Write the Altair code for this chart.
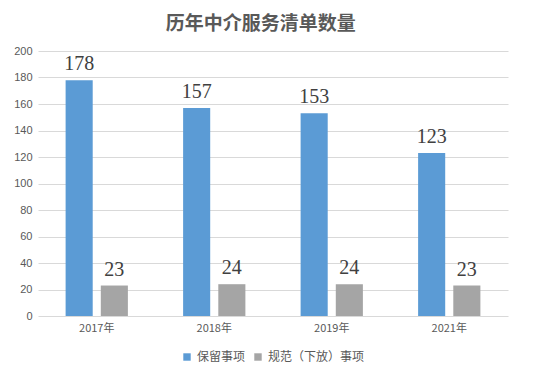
import altair as alt
import pandas as pd

years = ["2017年", "2018年", "2019年", "2021年"]
series = ["保留事项", "规范（下放）事项"]
retained = [178, 157, 153, 123]
standardized = [23, 24, 24, 23]
colors = ["#5B9BD5", "#A5A5A5"]
y_ticks = [0, 20, 40, 60, 80, 100, 120, 140, 160, 180, 200]

rows = []
for i, y in enumerate(years):
    rows.append({"year": y, "series": series[0], "value": retained[i]})
    rows.append({"year": y, "series": series[1], "value": standardized[i]})
df = pd.DataFrame(rows)

x = alt.X("year:N", sort=years, title=None,
          scale=alt.Scale(paddingInner=0.47, paddingOuter=0.235),
          axis=alt.Axis(labelAngle=0, labelFontSize=11, labelColor="#595959",
                        labelFont="Noto Sans CJK SC", ticks=False, domain=False,
                        labelPadding=6))
xo = alt.XOffset("series:N", sort=series,
                 scale=alt.Scale(paddingInner=0.23, paddingOuter=0))
y = alt.Y("value:Q", title=None,
          scale=alt.Scale(domain=[0, 200]),
          axis=alt.Axis(values=y_ticks, labelFontSize=11,
                        labelColor="#595959", labelFont="Liberation Sans",
                        ticks=False, domain=False, gridColor="#D9D9D9",
                        labelPadding=6, labelOverlap=False))

bars = alt.Chart(df).mark_bar().encode(
    x=x, xOffset=xo, y=y,
    color=alt.Color("series:N", sort=series,
                    scale=alt.Scale(domain=series, range=colors),
                    legend=alt.Legend(title=None, orient="none", direction="horizontal",
                                      legendX=143, legendY=300,
                                      symbolType="square", symbolSize=55,
                                      labelFontSize=12, labelColor="#595959",
                                      labelFont="Noto Sans CJK SC",
                                      columnPadding=6, symbolStrokeWidth=0)),
)

labels = alt.Chart(df).mark_text(
    baseline="bottom", dy=-6, fontSize=20, font="Liberation Serif", color="#404040"
).encode(
    x=x, xOffset=xo, y=y, text="value:Q",
)

chart = alt.layer(bars, labels).properties(
    width=470, height=265,
    autosize=alt.AutoSizeParams(type="none"),
    padding={"left": 30, "top": 43, "right": 19, "bottom": 56},
    title=alt.TitleParams("历年中介服务清单数量", fontSize=19, font="Noto Sans CJK SC",
                          fontWeight="bold", color="#595959", offset=11, frame="bounds"),
).configure_view(stroke=None)

chart.save("out.html", embed_options={"renderer": "svg", "actions": False})
